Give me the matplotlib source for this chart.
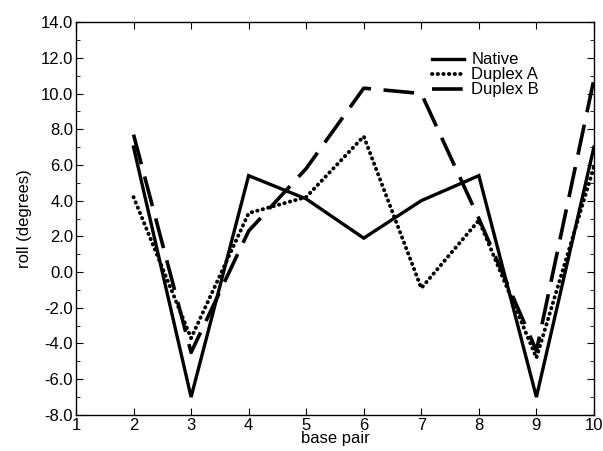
import matplotlib.pyplot as plt
from matplotlib.ticker import MultipleLocator, FormatStrFormatter

plt.rcParams['font.family'] = ['Liberation Sans', 'DejaVu Sans']

# Data
base_pair = [2, 3, 4, 5, 6, 7, 8, 9, 10]
native = [7.0, -7.0, 5.4, 4.1, 1.9, 4.0, 5.4, -7.0, 7.0]
duplex_a = [4.2, -3.7, 3.3, 4.2, 7.6, -0.9, 2.9, -4.8, 5.9]
duplex_b = [7.7, -4.5, 2.3, 5.8, 10.3, 10.0, 3.0, -4.4, 10.8]

fig = plt.figure(figsize=(6.03, 4.51), dpi=100)
ax = fig.add_axes([0.126, 0.080, 0.859, 0.871])

ax.plot(base_pair, native, color='black', lw=2.4, label='Native',
        solid_joinstyle='miter')
ax.plot(base_pair, duplex_a, color='black', lw=2.8, label='Duplex A',
        linestyle=(0, (0.1, 1.35)), dash_capstyle='round')
ax.plot(base_pair, duplex_b, color='black', lw=2.6, label='Duplex B',
        linestyle=(0, (8.5, 3.5)))

ax.set_xlim(1, 10)
ax.set_ylim(-8, 14)
ax.xaxis.set_major_locator(MultipleLocator(1))
ax.yaxis.set_major_locator(MultipleLocator(2))
ax.yaxis.set_minor_locator(MultipleLocator(1))
ax.yaxis.set_major_formatter(FormatStrFormatter('%.1f'))
ax.tick_params(which='both', direction='in', top=True, right=True,
               labelsize=12, pad=2)
ax.tick_params(which='major', length=5)
ax.tick_params(which='minor', length=3)
for s in ax.spines.values():
    s.set_linewidth(1.0)

ax.set_xlabel('base pair', fontsize=12, labelpad=-1)
ax.set_ylabel('roll (degrees)', fontsize=12, labelpad=6)

ax.legend(loc='upper left', bbox_to_anchor=(0.675, 0.94), frameon=False,
          fontsize=12, handlelength=1.9, handletextpad=0.45,
          labelspacing=0.0, borderaxespad=0)

fig.savefig('out.png', dpi=100)
